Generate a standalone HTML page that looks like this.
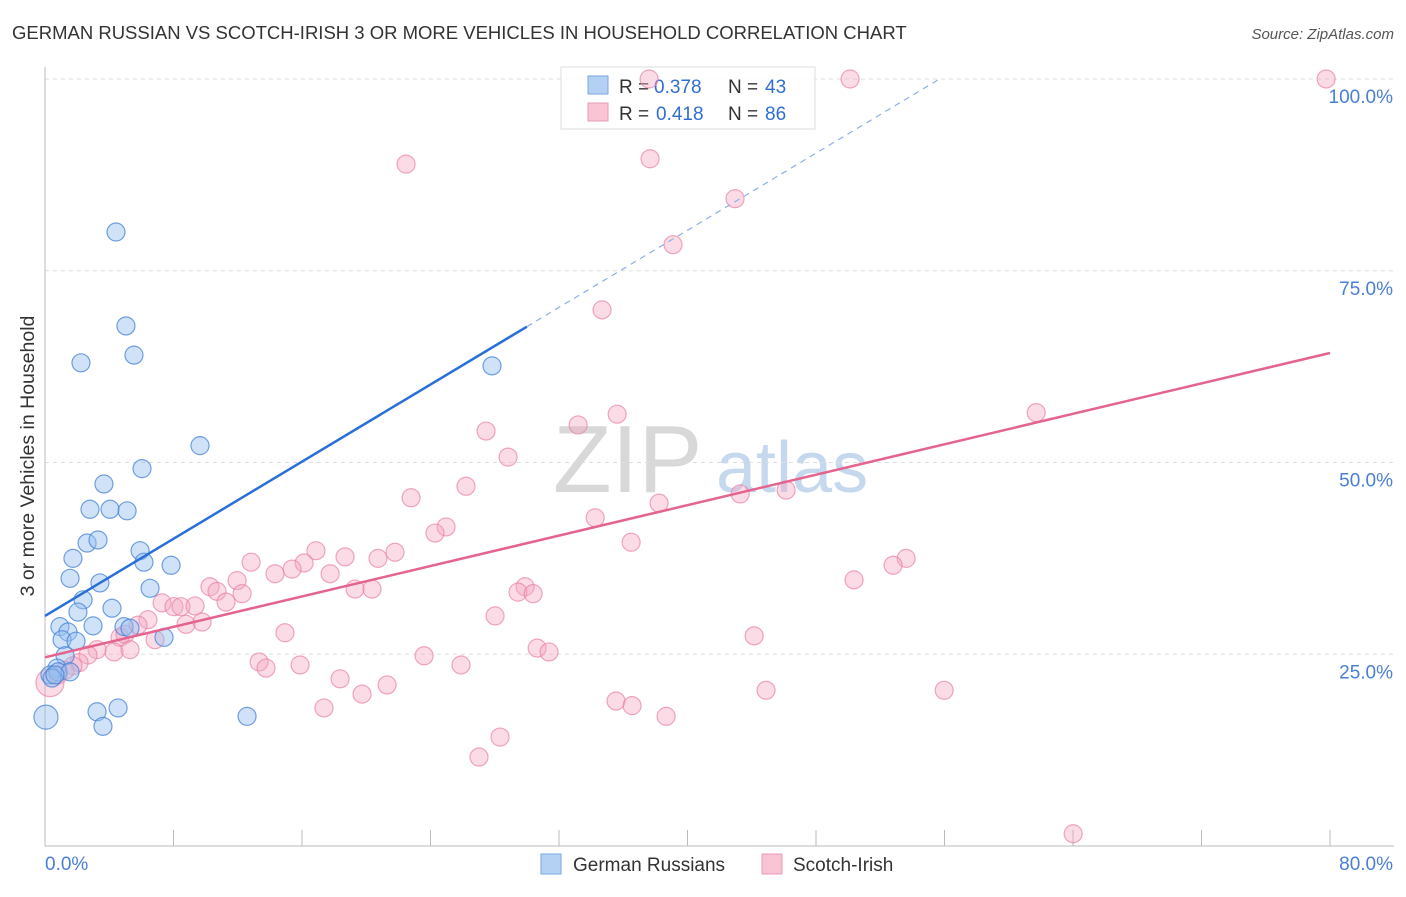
<!DOCTYPE html>
<html><head><meta charset="utf-8"><style>
body{margin:0;background:#fff;font-family:"Liberation Sans",sans-serif;}
svg text{font-family:"Liberation Sans",sans-serif;}
</style></head><body>
<svg width="1406" height="892" xmlns="http://www.w3.org/2000/svg">
<text x="12" y="39" font-size="18.5" fill="#333">GERMAN RUSSIAN VS SCOTCH-IRISH 3 OR MORE VEHICLES IN HOUSEHOLD CORRELATION CHART</text>
<text x="1394" y="39" font-size="15" fill="#555" text-anchor="end" font-style="italic">Source: ZipAtlas.com</text>
<g>
<text x="553" y="492" font-size="96" fill="#d8d8d8" font-family="Liberation Serif,serif">ZIP</text>
<text x="716" y="492" font-size="72" fill="#c5d8ee">atlas</text>
</g>
<g id="grid"></g>
<g id="axes"></g>
<g>
<rect x="561" y="67" width="254" height="62" fill="#fff" fill-opacity="0.85" stroke="#ddd"/>
<rect x="588" y="76" width="20" height="18" fill="#b4d0f3" stroke="#7aa7e0"/>
<rect x="588" y="103" width="20" height="18" fill="#f9c4d4" stroke="#eb9ab5"/>
<text x="619" y="93" font-size="19" fill="#333">R =</text>
<text x="654" y="93" font-size="19" fill="#2f6fd0">0.378</text>
<text x="728" y="93" font-size="19" fill="#333">N =</text>
<text x="765" y="93" font-size="19" fill="#2f6fd0">43</text>
<text x="619" y="120" font-size="19" fill="#333">R =</text>
<text x="656" y="120" font-size="19" fill="#2f6fd0">0.418</text>
<text x="728" y="120" font-size="19" fill="#333">N =</text>
<text x="765" y="120" font-size="19" fill="#2f6fd0">86</text>
</g>
<g id="pts"></g>
<g id="lines"></g>
<g>
<rect x="541" y="854" width="20" height="20" fill="#b4d0f3" stroke="#7aa7e0"/>
<text x="573" y="871" font-size="19" fill="#333">German Russians</text>
<rect x="762" y="854" width="20" height="20" fill="#f9c4d4" stroke="#eb9ab5"/>
<text x="793" y="871" font-size="19" fill="#333">Scotch-Irish</text>
</g>
<text transform="translate(34,456) rotate(-90)" font-size="19.5" fill="#333" text-anchor="middle">3 or more Vehicles in Household</text>
</svg>
<script>
const yTicks=[25,50,75,100];
const yTickLabels=["25.0%","50.0%","75.0%","100.0%"];
const xTickLabels=["0.0%","80.0%"];
const blueX=[4.42,5.04,2.24,5.54,27.83,9.65,6.04,3.67,2.80,4.05,5.11,2.62,3.30,5.92,1.74,6.16,7.85,1.56,3.42,6.54,2.37,4.17,2.05,2.99,0.93,1.43,4.92,5.29,7.41,1.06,1.93,1.25,0.75,0.31,0.81,1.56,0.44,3.24,4.55,3.61,12.58,0.06,0.62];
const blueY=[80.05,67.8,63.0,64.0,62.6,52.2,49.2,47.2,43.9,43.9,43.7,39.5,39.9,38.5,37.5,37.0,36.6,34.9,34.3,33.6,32.1,31.0,30.5,28.7,28.6,27.9,28.6,28.4,27.2,26.9,26.7,24.8,23.2,22.3,22.7,22.7,21.9,17.5,18.0,15.6,16.9,16.8,22.3];
const pinkX=[37.61,50.12,79.76,22.48,37.67,42.96,39.10,34.68,61.71,35.62,33.19,27.46,28.83,26.21,22.79,38.23,43.28,46.14,24.97,24.28,34.25,36.49,16.87,18.68,21.79,20.73,12.83,16.13,15.38,14.32,17.75,11.96,10.27,29.89,29.45,30.39,19.30,20.36,10.71,12.27,11.27,7.29,8.03,8.47,9.34,6.41,8.78,9.78,28.02,14.94,50.37,53.61,52.80,44.15,4.67,4.98,5.79,6.85,3.24,4.30,5.29,2.68,2.12,1.74,1.25,0.81,0.31,13.33,15.88,13.76,23.60,25.90,30.64,31.38,18.37,21.30,19.74,17.37,35.55,36.55,38.67,44.89,55.98,28.33,27.02,64.01];
const pinkY=[100,100,100,88.9,89.6,84.4,78.4,69.9,56.5,56.3,54.9,54.1,50.7,46.9,45.4,44.7,45.9,46.4,41.6,40.8,42.8,39.6,38.5,37.7,38.3,37.5,37.0,36.9,36.1,35.5,35.5,34.6,33.8,33.8,33.1,32.9,33.5,33.5,33.2,32.9,31.8,31.7,31.2,31.2,31.3,29.5,28.9,29.2,30.0,27.8,34.7,37.5,36.6,27.4,27.2,27.6,28.8,26.9,25.6,25.3,25.6,24.9,23.9,23.5,22.9,22.3,21.3,24.0,23.6,23.2,24.8,23.6,25.8,25.3,21.8,21.0,19.8,18.0,18.9,18.3,16.9,20.3,20.3,14.2,11.6,1.6];
const blueTrend=[30.0,1.257];
const pinkTrend=[24.6,0.496];
const NS="http://www.w3.org/2000/svg";
const X=v=>45+v*(1285/80);
const Y=v=>846-v*7.67;
function mk(tag,attrs,parent){const e=document.createElementNS(NS,tag);for(const k in attrs)e.setAttribute(k,attrs[k]);document.getElementById(parent).appendChild(e);return e;}
yTicks.forEach((t,i)=>{
 const g=mk('line',{x1:45,x2:1394,y1:Y(t),y2:Y(t),stroke:'#ddd','stroke-dasharray':'4,4'},'grid');
 
 
 const l=mk('text',{x:1393,y:Y(t)+24,'font-size':19,fill:'#4a7fd6','text-anchor':'end'},'grid');
 l.textContent=yTickLabels[i];
 
 
});
const ax=mk('line',{x1:45,x2:45,y1:67,y2:846,stroke:'#bbb'},'axes');


const bx=mk('line',{x1:45,x2:1394,y1:846,y2:846,stroke:'#bbb'},'axes');


for(let i=0;i<=10;i++){const t=mk('line',{x1:X(i*8),x2:X(i*8),y1:830,y2:846,stroke:'#bbb'},'axes');
 
 }
const xl0=mk('text',{x:45,y:870,'font-size':19,fill:'#4a7fd6'},'axes');xl0.textContent=xTickLabels[0];


const xl1=mk('text',{x:1393,y:870,'font-size':19,fill:'#4a7fd6','text-anchor':'end'},'axes');xl1.textContent=xTickLabels[1];


pinkX.forEach((x,i)=>{const c=mk('circle',{cx:X(x),cy:Y(pinkY[i]),r:(i==66?14:9),fill:'rgba(244,168,192,0.4)',stroke:'rgba(232,130,165,0.7)','stroke-width':1.2},'pts');
 
 });
blueX.forEach((x,i)=>{const c=mk('circle',{cx:X(x),cy:Y(blueY[i]),r:(i==41?12:9),fill:'rgba(150,190,240,0.45)',stroke:'rgba(70,130,215,0.75)','stroke-width':1.2},'pts');
 
 });
const bl=mk('line',{x1:X(0),y1:Y(blueTrend[0]),x2:X(30),y2:Y(blueTrend[0]+30*blueTrend[1]),stroke:'#2a6fd6','stroke-width':2.5},'lines');


const xe=(100-blueTrend[0])/blueTrend[1];
const bd=mk('line',{x1:X(30),y1:Y(blueTrend[0]+30*blueTrend[1]),x2:X(xe),y2:Y(100),stroke:'#8ab0e6','stroke-width':1.2,'stroke-dasharray':'6,5'},'lines');


const pl=mk('line',{x1:X(0),y1:Y(pinkTrend[0]),x2:X(80),y2:Y(pinkTrend[0]+80*pinkTrend[1]),stroke:'#e4648f','stroke-width':2.5},'lines');


</script>
</body></html>
